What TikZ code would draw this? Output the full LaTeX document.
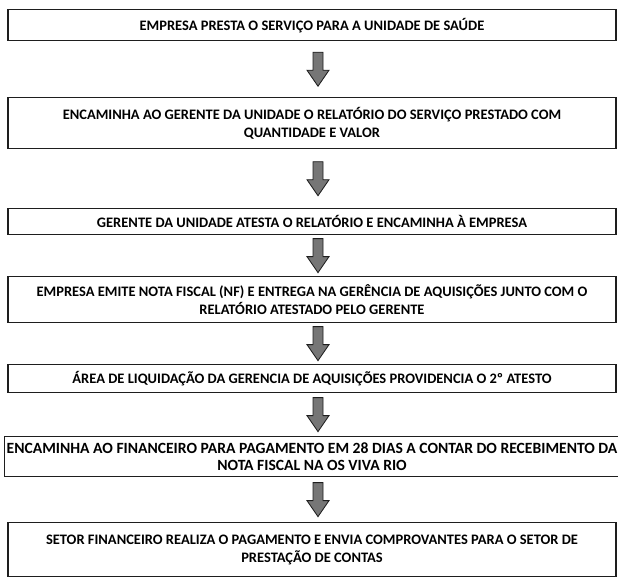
\documentclass[tikz,border=0pt]{standalone}
\usepackage{fontspec}
\setmainfont{Carlito}
\usepackage{tikz}
\usetikzlibrary{arrows.meta,positioning,calc}
\definecolor{FlowInk}{HTML}{1E1E1E}
\definecolor{FlowArrowGray}{HTML}{767676}
\tikzset{
  stepbox/.style={draw=FlowInk,line width=0.9pt,fill=white,align=center,
    minimum width=15.2cm,inner sep=0.6mm,font=\fontsize{10.3}{12.6}\selectfont\bfseries},
  fatdown/.style={draw=FlowInk,fill=FlowArrowGray,line width=0.6pt,line join=miter}
}
\begin{document}
\begin{tikzpicture}[x=1cm,y=1cm]
  \path[use as bounding box] (0,0) rectangle (15.45,-14.475);

  \node[stepbox,anchor=north,minimum height=0.78cm] (b1) at (7.8,-0.225)
    {EMPRESA PRESTA O SERVIÇO PARA A UNIDADE DE SAÚDE};
  \node[stepbox,anchor=north,minimum height=1.28cm] (b2) at (7.8,-2.425)
    {ENCAMINHA AO GERENTE DA UNIDADE O RELATÓRIO DO SERVIÇO PRESTADO COM\\QUANTIDADE E VALOR};
  \node[stepbox,anchor=north,minimum height=0.65cm] (b3) at (7.8,-5.2)
    {GERENTE DA UNIDADE ATESTA O RELATÓRIO E ENCAMINHA À EMPRESA};
  \node[stepbox,anchor=north,minimum height=1.15cm] (b4) at (7.8,-6.9)
    {EMPRESA EMITE NOTA FISCAL (NF) E ENTREGA NA GERÊNCIA DE AQUISIÇÕES JUNTO COM O\\RELATÓRIO ATESTADO PELO GERENTE};
  \node[stepbox,anchor=north,minimum height=0.7cm] (b5) at (7.8,-9.1)
    {ÁREA DE LIQUIDAÇÃO DA GERENCIA DE AQUISIÇÕES PROVIDENCIA O 2º ATESTO};
  \node[stepbox,anchor=north,minimum height=1.0cm,font=\fontsize{11.1}{12.6}\selectfont\bfseries] (b6) at (7.8,-10.9)
    {ENCAMINHA AO FINANCEIRO PARA PAGAMENTO EM 28 DIAS A CONTAR DO RECEBIMENTO DA\\NOTA FISCAL NA OS VIVA RIO};
  \node[stepbox,anchor=north,minimum height=1.35cm] (b7) at (7.8,-13.05)
    {SETOR FINANCEIRO REALIZA O PAGAMENTO E ENVIA COMPROVANTES PARA O SETOR DE\\PRESTAÇÃO DE CONTAS};

  % block arrows between the steps
  \foreach \a/\b in {b1/b2,b2/b3,b3/b4,b4/b5,b5/b6,b6/b7}{
    \coordinate (m) at ($([xshift=1.5mm]\a.south)!0.5!([xshift=1.5mm]\b.north)$);
    \filldraw[fatdown] ($(m)+(-0.125,0.425)$) -- ++(0.25,0) -- ++(0,-0.45) -- ++(0.15,0)
      -- ++(-0.275,-0.4) -- ++(-0.275,0.4) -- ++(0.15,0) -- cycle;
  }
\end{tikzpicture}
\end{document}
